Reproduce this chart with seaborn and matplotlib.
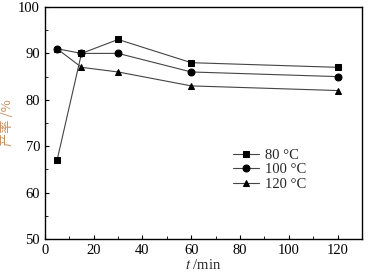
import matplotlib
matplotlib.use("Agg")
import matplotlib.pyplot as plt
from matplotlib.ticker import MultipleLocator
import seaborn as sns
import pandas as pd

time_min = [5, 15, 30, 60, 120]
yield_80 = [67, 90, 93, 88, 87]
yield_100 = [91, 90, 90, 86, 85]
yield_120 = [91, 87, 86, 83, 82]
series_labels = ["80 °C", "100 °C", "120 °C"]

rows = []
for lab, vals in zip(series_labels, [yield_80, yield_100, yield_120]):
    for t, v in zip(time_min, vals):
        rows.append({"t": t, "y": v, "series": lab})
df = pd.DataFrame(rows)

sns.set_style("ticks")
plt.rcParams['font.family'] = ['Liberation Serif', 'Noto Sans CJK SC']
plt.rcParams['mathtext.fontset'] = 'stix'

fig = plt.figure(figsize=(3.71, 2.79), dpi=100)
ax = fig.add_axes([0.121, 0.143, 0.855, 0.832])

sns.lineplot(data=df, x="t", y="y", hue="series", style="series",
             markers=["s", "o", "^"], dashes=False,
             palette=["#444444"] * 3, linewidth=0.8, markersize=5,
             ax=ax, legend=True)
for line in ax.lines:
    line.set_markerfacecolor("black")
    line.set_markeredgecolor("black")

ax.set_xlim(0, 130)
ax.set_ylim(50, 100)
ax.xaxis.set_major_locator(MultipleLocator(20))
ax.xaxis.set_minor_locator(MultipleLocator(10))
ax.yaxis.set_major_locator(MultipleLocator(10))
ax.yaxis.set_minor_locator(MultipleLocator(5))
ax.tick_params(which="both", direction="in", top=False, right=False, labelsize=10.5, colors="black")
ax.tick_params(which="major", length=3)
ax.tick_params(which="minor", length=2)
for s in ax.spines.values():
    s.set_visible(True)
    s.set_linewidth(1.0)
    s.set_color("black")

ax.set_xlabel("$t$ /min", fontsize=10.5, labelpad=1)
ax.set_ylabel("产率 /%", fontsize=9.5, color="#c89060", labelpad=3,
              family=['Noto Sans CJK SC', 'Liberation Serif'])

handles, labels = ax.get_legend_handles_labels()
for h in handles:
    h.set_markerfacecolor("black")
    h.set_markeredgecolor("black")
ax.legend(handles, labels, loc="upper left", bbox_to_anchor=(0.575, 0.415),
          frameon=False, fontsize=10.5, handlelength=1.8, labelspacing=0.1,
          borderaxespad=0, handletextpad=0.4)

fig.savefig("out.png", dpi=100)
